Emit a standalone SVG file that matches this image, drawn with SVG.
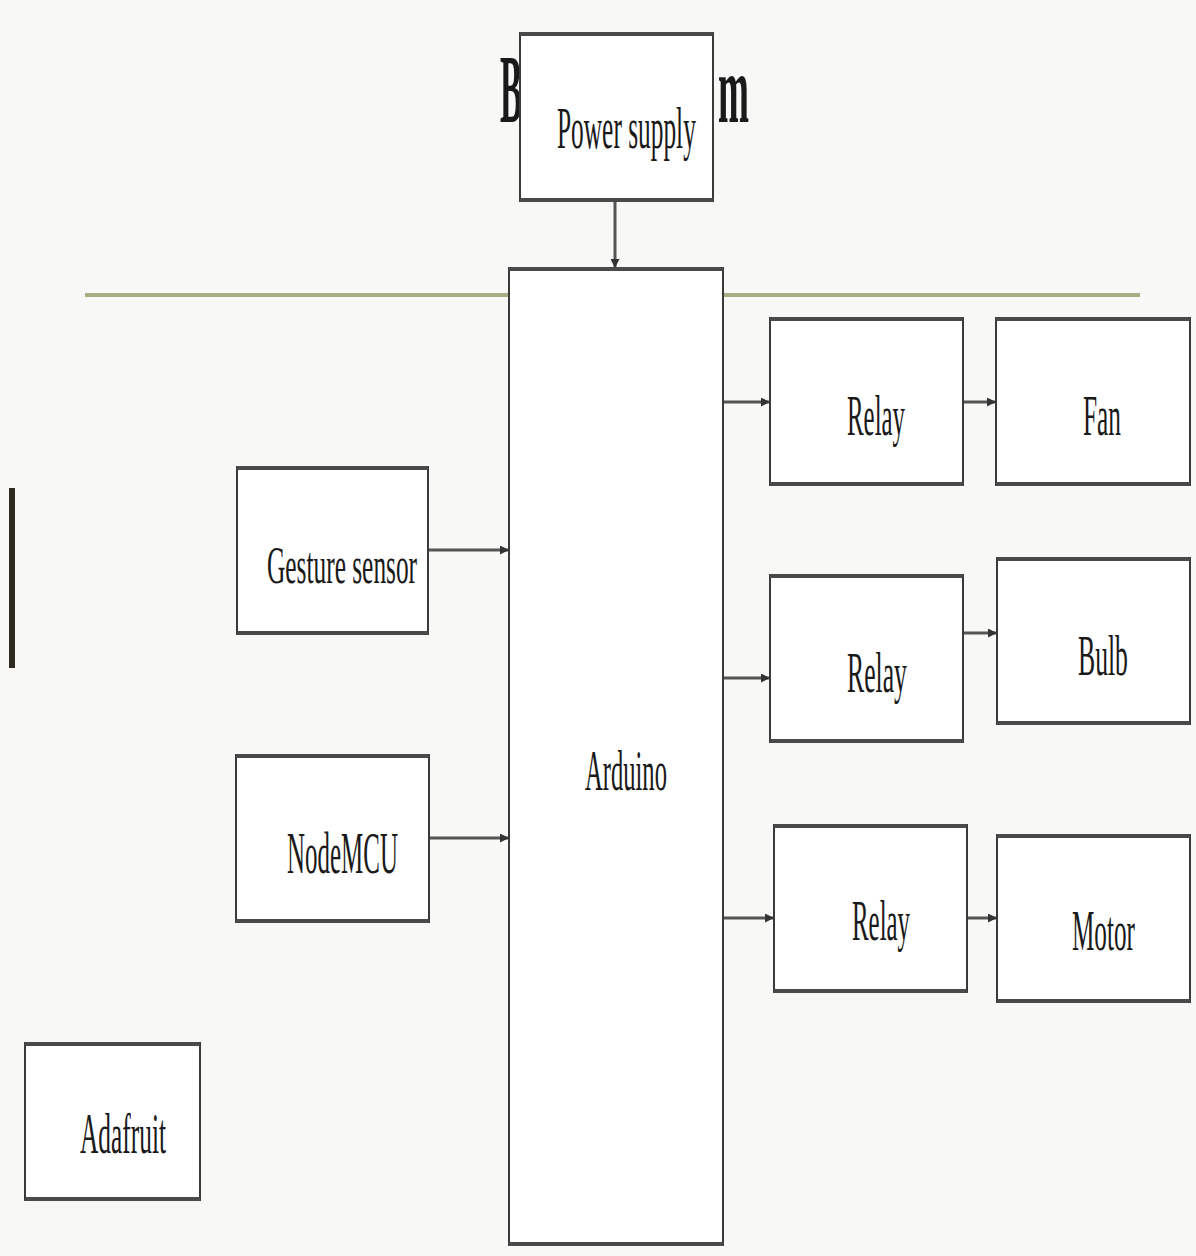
<svg xmlns="http://www.w3.org/2000/svg" width="1196" height="1256" viewBox="0 0 1196 1256">
  <defs>
    <style>
      .box { fill: #ffffff; stroke: #3a3a3a; stroke-width: 2; }
      .edge { stroke: #4a4a4a; stroke-width: 4; }
      .lbl { font-family: "Liberation Serif", "Times New Roman", serif; fill: #1a1a1a; }
      .title { font-family: "Liberation Serif", "Times New Roman", serif; font-weight: bold; fill: #1a1a1a; font-size: 98px; }
      .conn { stroke: #555555; stroke-width: 3; fill: none; marker-end: url(#arrow); }
    </style>
    <marker id="arrow" viewBox="0 0 10 10" refX="10" refY="5" markerUnits="userSpaceOnUse" markerWidth="9" markerHeight="9" orient="auto">
      <path d="M0,0 L10,5 L0,10 z" fill="#333333"/>
    </marker>
  </defs>

  <rect x="0" y="0" width="1196" height="1256" fill="#f8f8f6"/>

  <!-- decorations -->
  <line x1="85" y1="295" x2="1140" y2="295" stroke="#a9ad84" stroke-width="4"/>
  <rect x="9" y="488" width="6" height="180" fill="#2d2a22"/>

  <!-- title fragments -->
  <text class="title" transform="translate(500,122) scale(0.336,1)" x="0" y="0">B</text>
  <text class="title" transform="translate(718,122) scale(0.38,1)" x="0" y="0">m</text>

  <g id="connectors">
    <line class="conn" x1="615" y1="202" x2="615" y2="268"/>
    <line class="conn" x1="428" y1="550" x2="509" y2="550"/>
    <line class="conn" x1="428" y1="838" x2="509" y2="838"/>
    <line class="conn" x1="723" y1="402" x2="770" y2="402"/>
    <line class="conn" x1="963" y1="402" x2="996" y2="402"/>
    <line class="conn" x1="723" y1="678" x2="770" y2="678"/>
    <line class="conn" x1="963" y1="633" x2="997" y2="633"/>
    <line class="conn" x1="720" y1="918" x2="774" y2="918"/>
    <line class="conn" x1="967" y1="918" x2="997" y2="918"/>
  </g>

  <g id="power-supply">
    <rect class="box" x="520" y="33" width="193" height="168"/>
    <line class="edge" x1="520" y1="34" x2="713" y2="34"/>
    <line class="edge" x1="520" y1="200" x2="713" y2="200"/>
    <text class="lbl" font-size="60" transform="translate(557,148) scale(0.423,1)" x="0" y="0">Power supply</text>
  </g>

  <g id="arduino">
    <rect class="box" x="509" y="268" width="214" height="977"/>
    <line class="edge" x1="509" y1="269" x2="723" y2="269"/>
    <line class="edge" x1="509" y1="1244" x2="723" y2="1244"/>
    <text class="lbl" font-size="56" transform="translate(585,790) scale(0.439,1)" x="0" y="0">Arduino</text>
  </g>

  <g id="gesture-sensor">
    <rect class="box" x="237" y="467" width="191" height="167"/>
    <line class="edge" x1="237" y1="468" x2="428" y2="468"/>
    <line class="edge" x1="237" y1="633" x2="428" y2="633"/>
    <text class="lbl" font-size="52" transform="translate(267,583) scale(0.488,1)" x="0" y="0">Gesture sensor</text>
  </g>

  <g id="nodemcu">
    <rect class="box" x="236" y="755" width="193" height="167"/>
    <line class="edge" x1="236" y1="756" x2="429" y2="756"/>
    <line class="edge" x1="236" y1="921" x2="429" y2="921"/>
    <text class="lbl" font-size="60" transform="translate(287,873) scale(0.416,1)" x="0" y="0">NodeMCU</text>
  </g>

  <g id="adafruit">
    <rect class="box" x="25" y="1043" width="175" height="157"/>
    <line class="edge" x1="25" y1="1044" x2="200" y2="1044"/>
    <line class="edge" x1="25" y1="1199" x2="200" y2="1199"/>
    <text class="lbl" font-size="58" transform="translate(80,1153) scale(0.438,1)" x="0" y="0">Adafruit</text>
  </g>

  <g id="relay-1">
    <rect class="box" x="770" y="318" width="193" height="167"/>
    <line class="edge" x1="770" y1="319" x2="963" y2="319"/>
    <line class="edge" x1="770" y1="484" x2="963" y2="484"/>
    <text class="lbl" font-size="58" transform="translate(847,435) scale(0.429,1)" x="0" y="0">Relay</text>
  </g>

  <g id="fan">
    <rect class="box" x="996" y="318" width="194" height="167"/>
    <line class="edge" x1="996" y1="319" x2="1190" y2="319"/>
    <line class="edge" x1="996" y1="484" x2="1190" y2="484"/>
    <text class="lbl" font-size="58" transform="translate(1083,435) scale(0.437,1)" x="0" y="0">Fan</text>
  </g>

  <g id="relay-2">
    <rect class="box" x="770" y="575" width="193" height="167"/>
    <line class="edge" x1="770" y1="576" x2="963" y2="576"/>
    <line class="edge" x1="770" y1="741" x2="963" y2="741"/>
    <text class="lbl" font-size="58" transform="translate(847,692) scale(0.443,1)" x="0" y="0">Relay</text>
  </g>

  <g id="bulb">
    <rect class="box" x="997" y="558" width="193" height="166"/>
    <line class="edge" x1="997" y1="559" x2="1190" y2="559"/>
    <line class="edge" x1="997" y1="723" x2="1190" y2="723"/>
    <text class="lbl" font-size="58" transform="translate(1078,675) scale(0.443,1)" x="0" y="0">Bulb</text>
  </g>

  <g id="relay-3">
    <rect class="box" x="774" y="825" width="193" height="167"/>
    <line class="edge" x1="774" y1="826" x2="967" y2="826"/>
    <line class="edge" x1="774" y1="991" x2="967" y2="991"/>
    <text class="lbl" font-size="58" transform="translate(852,940) scale(0.429,1)" x="0" y="0">Relay</text>
  </g>

  <g id="motor">
    <rect class="box" x="997" y="835" width="193" height="167"/>
    <line class="edge" x1="997" y1="836" x2="1190" y2="836"/>
    <line class="edge" x1="997" y1="1001" x2="1190" y2="1001"/>
    <text class="lbl" font-size="58" transform="translate(1072,950) scale(0.434,1)" x="0" y="0">Motor</text>
  </g>
</svg>
